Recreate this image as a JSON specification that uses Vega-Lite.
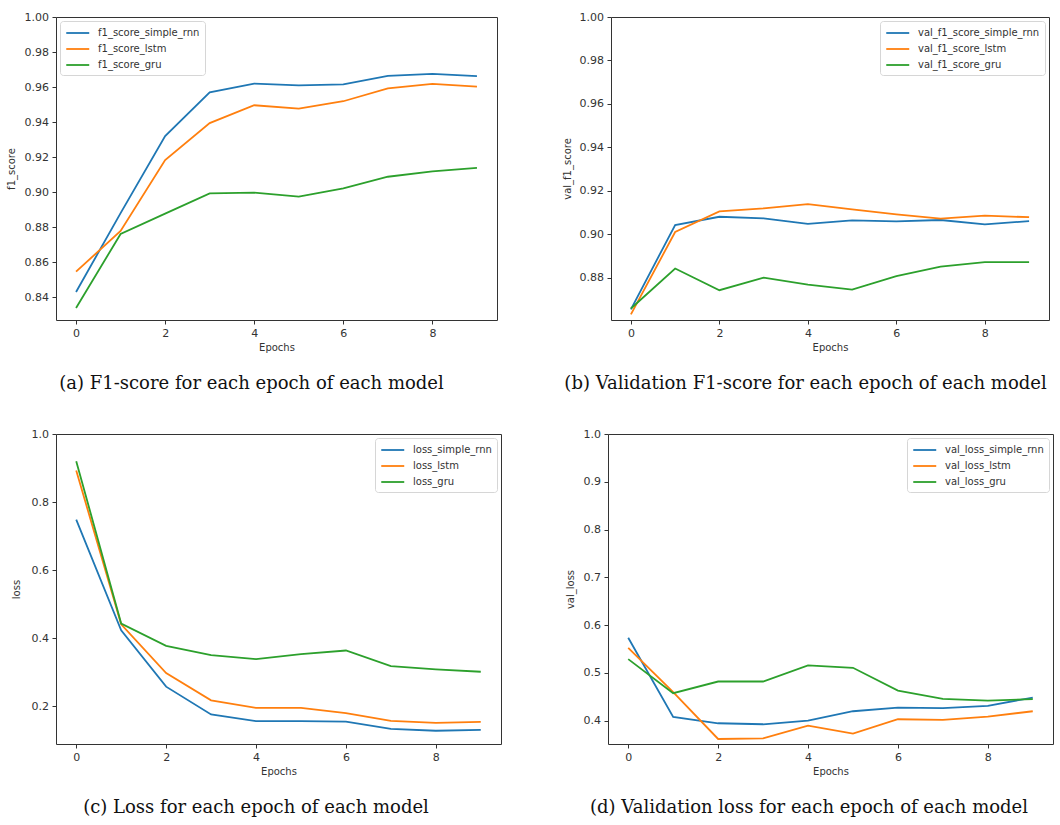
{
  "$schema": "https://vega.github.io/schema/vega-lite/v6.json",
  "padding": {"left": 5, "top": 10, "right": 0, "bottom": 0},
  "background": "white",
  "datasets": {
    "history": [
      {"metric": "f1_score", "series": "f1_score_simple_rnn", "epoch": 0, "value": 0.843},
      {"metric": "f1_score", "series": "f1_score_simple_rnn", "epoch": 1, "value": 0.888},
      {"metric": "f1_score", "series": "f1_score_simple_rnn", "epoch": 2, "value": 0.932},
      {"metric": "f1_score", "series": "f1_score_simple_rnn", "epoch": 3, "value": 0.957},
      {"metric": "f1_score", "series": "f1_score_simple_rnn", "epoch": 4, "value": 0.962},
      {"metric": "f1_score", "series": "f1_score_simple_rnn", "epoch": 5, "value": 0.961},
      {"metric": "f1_score", "series": "f1_score_simple_rnn", "epoch": 6, "value": 0.9615},
      {"metric": "f1_score", "series": "f1_score_simple_rnn", "epoch": 7, "value": 0.9664},
      {"metric": "f1_score", "series": "f1_score_simple_rnn", "epoch": 8, "value": 0.9675},
      {"metric": "f1_score", "series": "f1_score_simple_rnn", "epoch": 9, "value": 0.9662},
      {"metric": "f1_score", "series": "f1_score_lstm", "epoch": 0, "value": 0.8546},
      {"metric": "f1_score", "series": "f1_score_lstm", "epoch": 1, "value": 0.8778},
      {"metric": "f1_score", "series": "f1_score_lstm", "epoch": 2, "value": 0.9183},
      {"metric": "f1_score", "series": "f1_score_lstm", "epoch": 3, "value": 0.9394},
      {"metric": "f1_score", "series": "f1_score_lstm", "epoch": 4, "value": 0.9496},
      {"metric": "f1_score", "series": "f1_score_lstm", "epoch": 5, "value": 0.9477},
      {"metric": "f1_score", "series": "f1_score_lstm", "epoch": 6, "value": 0.9519},
      {"metric": "f1_score", "series": "f1_score_lstm", "epoch": 7, "value": 0.9593},
      {"metric": "f1_score", "series": "f1_score_lstm", "epoch": 8, "value": 0.9618},
      {"metric": "f1_score", "series": "f1_score_lstm", "epoch": 9, "value": 0.9603},
      {"metric": "f1_score", "series": "f1_score_gru", "epoch": 0, "value": 0.8339},
      {"metric": "f1_score", "series": "f1_score_gru", "epoch": 1, "value": 0.8761},
      {"metric": "f1_score", "series": "f1_score_gru", "epoch": 2, "value": 0.8877},
      {"metric": "f1_score", "series": "f1_score_gru", "epoch": 3, "value": 0.8993},
      {"metric": "f1_score", "series": "f1_score_gru", "epoch": 4, "value": 0.8997},
      {"metric": "f1_score", "series": "f1_score_gru", "epoch": 5, "value": 0.8974},
      {"metric": "f1_score", "series": "f1_score_gru", "epoch": 6, "value": 0.9021},
      {"metric": "f1_score", "series": "f1_score_gru", "epoch": 7, "value": 0.9088},
      {"metric": "f1_score", "series": "f1_score_gru", "epoch": 8, "value": 0.9118},
      {"metric": "f1_score", "series": "f1_score_gru", "epoch": 9, "value": 0.9139},

      {"metric": "val_f1_score", "series": "val_f1_score_simple_rnn", "epoch": 0, "value": 0.8655},
      {"metric": "val_f1_score", "series": "val_f1_score_simple_rnn", "epoch": 1, "value": 0.9043},
      {"metric": "val_f1_score", "series": "val_f1_score_simple_rnn", "epoch": 2, "value": 0.9081},
      {"metric": "val_f1_score", "series": "val_f1_score_simple_rnn", "epoch": 3, "value": 0.9074},
      {"metric": "val_f1_score", "series": "val_f1_score_simple_rnn", "epoch": 4, "value": 0.9048},
      {"metric": "val_f1_score", "series": "val_f1_score_simple_rnn", "epoch": 5, "value": 0.9064},
      {"metric": "val_f1_score", "series": "val_f1_score_simple_rnn", "epoch": 6, "value": 0.906},
      {"metric": "val_f1_score", "series": "val_f1_score_simple_rnn", "epoch": 7, "value": 0.9066},
      {"metric": "val_f1_score", "series": "val_f1_score_simple_rnn", "epoch": 8, "value": 0.9046},
      {"metric": "val_f1_score", "series": "val_f1_score_simple_rnn", "epoch": 9, "value": 0.9061},
      {"metric": "val_f1_score", "series": "val_f1_score_lstm", "epoch": 0, "value": 0.8632},
      {"metric": "val_f1_score", "series": "val_f1_score_lstm", "epoch": 1, "value": 0.9011},
      {"metric": "val_f1_score", "series": "val_f1_score_lstm", "epoch": 2, "value": 0.9106},
      {"metric": "val_f1_score", "series": "val_f1_score_lstm", "epoch": 3, "value": 0.912},
      {"metric": "val_f1_score", "series": "val_f1_score_lstm", "epoch": 4, "value": 0.9139},
      {"metric": "val_f1_score", "series": "val_f1_score_lstm", "epoch": 5, "value": 0.9115},
      {"metric": "val_f1_score", "series": "val_f1_score_lstm", "epoch": 6, "value": 0.9092},
      {"metric": "val_f1_score", "series": "val_f1_score_lstm", "epoch": 7, "value": 0.9072},
      {"metric": "val_f1_score", "series": "val_f1_score_lstm", "epoch": 8, "value": 0.9086},
      {"metric": "val_f1_score", "series": "val_f1_score_lstm", "epoch": 9, "value": 0.9079},
      {"metric": "val_f1_score", "series": "val_f1_score_gru", "epoch": 0, "value": 0.8659},
      {"metric": "val_f1_score", "series": "val_f1_score_gru", "epoch": 1, "value": 0.8843},
      {"metric": "val_f1_score", "series": "val_f1_score_gru", "epoch": 2, "value": 0.8743},
      {"metric": "val_f1_score", "series": "val_f1_score_gru", "epoch": 3, "value": 0.8801},
      {"metric": "val_f1_score", "series": "val_f1_score_gru", "epoch": 4, "value": 0.8769},
      {"metric": "val_f1_score", "series": "val_f1_score_gru", "epoch": 5, "value": 0.8746},
      {"metric": "val_f1_score", "series": "val_f1_score_gru", "epoch": 6, "value": 0.8808},
      {"metric": "val_f1_score", "series": "val_f1_score_gru", "epoch": 7, "value": 0.8852},
      {"metric": "val_f1_score", "series": "val_f1_score_gru", "epoch": 8, "value": 0.8872},
      {"metric": "val_f1_score", "series": "val_f1_score_gru", "epoch": 9, "value": 0.8872},

      {"metric": "loss", "series": "loss_simple_rnn", "epoch": 0, "value": 0.7486},
      {"metric": "loss", "series": "loss_simple_rnn", "epoch": 1, "value": 0.4232},
      {"metric": "loss", "series": "loss_simple_rnn", "epoch": 2, "value": 0.2575},
      {"metric": "loss", "series": "loss_simple_rnn", "epoch": 3, "value": 0.1757},
      {"metric": "loss", "series": "loss_simple_rnn", "epoch": 4, "value": 0.1562},
      {"metric": "loss", "series": "loss_simple_rnn", "epoch": 5, "value": 0.1565},
      {"metric": "loss", "series": "loss_simple_rnn", "epoch": 6, "value": 0.1545},
      {"metric": "loss", "series": "loss_simple_rnn", "epoch": 7, "value": 0.1337},
      {"metric": "loss", "series": "loss_simple_rnn", "epoch": 8, "value": 0.1279},
      {"metric": "loss", "series": "loss_simple_rnn", "epoch": 9, "value": 0.1308},
      {"metric": "loss", "series": "loss_lstm", "epoch": 0, "value": 0.8928},
      {"metric": "loss", "series": "loss_lstm", "epoch": 1, "value": 0.4407},
      {"metric": "loss", "series": "loss_lstm", "epoch": 2, "value": 0.2974},
      {"metric": "loss", "series": "loss_lstm", "epoch": 3, "value": 0.2175},
      {"metric": "loss", "series": "loss_lstm", "epoch": 4, "value": 0.1951},
      {"metric": "loss", "series": "loss_lstm", "epoch": 5, "value": 0.1951},
      {"metric": "loss", "series": "loss_lstm", "epoch": 6, "value": 0.1796},
      {"metric": "loss", "series": "loss_lstm", "epoch": 7, "value": 0.1571},
      {"metric": "loss", "series": "loss_lstm", "epoch": 8, "value": 0.1513},
      {"metric": "loss", "series": "loss_lstm", "epoch": 9, "value": 0.1542},
      {"metric": "loss", "series": "loss_gru", "epoch": 0, "value": 0.9201},
      {"metric": "loss", "series": "loss_gru", "epoch": 1, "value": 0.443},
      {"metric": "loss", "series": "loss_gru", "epoch": 2, "value": 0.3774},
      {"metric": "loss", "series": "loss_gru", "epoch": 3, "value": 0.3501},
      {"metric": "loss", "series": "loss_gru", "epoch": 4, "value": 0.3384},
      {"metric": "loss", "series": "loss_gru", "epoch": 5, "value": 0.353},
      {"metric": "loss", "series": "loss_gru", "epoch": 6, "value": 0.3637},
      {"metric": "loss", "series": "loss_gru", "epoch": 7, "value": 0.3179},
      {"metric": "loss", "series": "loss_gru", "epoch": 8, "value": 0.3082},
      {"metric": "loss", "series": "loss_gru", "epoch": 9, "value": 0.3013},

      {"metric": "val_loss", "series": "val_loss_simple_rnn", "epoch": 0, "value": 0.5734},
      {"metric": "val_loss", "series": "val_loss_simple_rnn", "epoch": 1, "value": 0.4077},
      {"metric": "val_loss", "series": "val_loss_simple_rnn", "epoch": 2, "value": 0.3944},
      {"metric": "val_loss", "series": "val_loss_simple_rnn", "epoch": 3, "value": 0.3923},
      {"metric": "val_loss", "series": "val_loss_simple_rnn", "epoch": 4, "value": 0.4},
      {"metric": "val_loss", "series": "val_loss_simple_rnn", "epoch": 5, "value": 0.4196},
      {"metric": "val_loss", "series": "val_loss_simple_rnn", "epoch": 6, "value": 0.4273},
      {"metric": "val_loss", "series": "val_loss_simple_rnn", "epoch": 7, "value": 0.4259},
      {"metric": "val_loss", "series": "val_loss_simple_rnn", "epoch": 8, "value": 0.4308},
      {"metric": "val_loss", "series": "val_loss_simple_rnn", "epoch": 9, "value": 0.4483},
      {"metric": "val_loss", "series": "val_loss_lstm", "epoch": 0, "value": 0.5524},
      {"metric": "val_loss", "series": "val_loss_lstm", "epoch": 1, "value": 0.4594},
      {"metric": "val_loss", "series": "val_loss_lstm", "epoch": 2, "value": 0.3615},
      {"metric": "val_loss", "series": "val_loss_lstm", "epoch": 3, "value": 0.3629},
      {"metric": "val_loss", "series": "val_loss_lstm", "epoch": 4, "value": 0.3895},
      {"metric": "val_loss", "series": "val_loss_lstm", "epoch": 5, "value": 0.3727},
      {"metric": "val_loss", "series": "val_loss_lstm", "epoch": 6, "value": 0.4028},
      {"metric": "val_loss", "series": "val_loss_lstm", "epoch": 7, "value": 0.4014},
      {"metric": "val_loss", "series": "val_loss_lstm", "epoch": 8, "value": 0.4084},
      {"metric": "val_loss", "series": "val_loss_lstm", "epoch": 9, "value": 0.4196},
      {"metric": "val_loss", "series": "val_loss_gru", "epoch": 0, "value": 0.5287},
      {"metric": "val_loss", "series": "val_loss_gru", "epoch": 1, "value": 0.4573},
      {"metric": "val_loss", "series": "val_loss_gru", "epoch": 2, "value": 0.4818},
      {"metric": "val_loss", "series": "val_loss_gru", "epoch": 3, "value": 0.4818},
      {"metric": "val_loss", "series": "val_loss_gru", "epoch": 4, "value": 0.5154},
      {"metric": "val_loss", "series": "val_loss_gru", "epoch": 5, "value": 0.5105},
      {"metric": "val_loss", "series": "val_loss_gru", "epoch": 6, "value": 0.4629},
      {"metric": "val_loss", "series": "val_loss_gru", "epoch": 7, "value": 0.4455},
      {"metric": "val_loss", "series": "val_loss_gru", "epoch": 8, "value": 0.442},
      {"metric": "val_loss", "series": "val_loss_gru", "epoch": 9, "value": 0.4448}
    ]
  },
  "vconcat": [
    {
      "hconcat": [
        {
          "width": 441,
          "height": 303,
          "title": {"text": "(a) F1-score for each epoch of each model"},
          "data": {"name": "history"},
          "transform": [{"filter": "datum.metric === 'f1_score'"}],
          "mark": {"type": "line", "strokeWidth": 1.8},
          "encoding": {
            "x": {"field": "epoch", "type": "quantitative", "scale": {"domain": [-0.45, 9.45], "nice": false, "zero": false}, "axis": {"values": [0, 2, 4, 6, 8], "format": "d", "title": "Epochs"}},
            "y": {"field": "value", "type": "quantitative", "scale": {"domain": [0.827, 1.0], "nice": false, "zero": false}, "axis": {"values": [0.84, 0.86, 0.88, 0.9, 0.92, 0.94, 0.96, 0.98, 1.0], "format": ".2f", "title": "f1_score", "titlePadding": 8}},
            "color": {"field": "series", "type": "nominal", "scale": {"domain": ["f1_score_simple_rnn", "f1_score_lstm", "f1_score_gru"], "range": ["#1f77b4", "#ff7f0e", "#2ca02c"]}, "legend": {"orient": "top-left"}}
          }
        },
        {
          "width": 438,
          "height": 303,
          "title": {"text": "(b) Validation F1-score for each epoch of each model"},
          "data": {"name": "history"},
          "transform": [{"filter": "datum.metric === 'val_f1_score'"}],
          "mark": {"type": "line", "strokeWidth": 1.8},
          "encoding": {
            "x": {"field": "epoch", "type": "quantitative", "scale": {"domain": [-0.45, 9.45], "nice": false, "zero": false}, "axis": {"values": [0, 2, 4, 6, 8], "format": "d", "title": "Epochs"}},
            "y": {"field": "value", "type": "quantitative", "scale": {"domain": [0.8606, 1.0], "nice": false, "zero": false}, "axis": {"values": [0.88, 0.9, 0.92, 0.94, 0.96, 0.98, 1.0], "format": ".2f", "title": "val_f1_score", "titlePadding": 7}},
            "color": {"field": "series", "type": "nominal", "scale": {"domain": ["val_f1_score_simple_rnn", "val_f1_score_lstm", "val_f1_score_gru"], "range": ["#1f77b4", "#ff7f0e", "#2ca02c"]}, "legend": {"orient": "top-right"}}
          }
        }
      ],
      "spacing": 63,
      "resolve": {"scale": {"color": "independent"}, "legend": {"color": "independent"}}
    },
    {
      "hconcat": [
        {
          "width": 445,
          "height": 310,
          "title": {"text": "(c) Loss for each epoch of each model"},
          "data": {"name": "history"},
          "transform": [{"filter": "datum.metric === 'loss'"}],
          "mark": {"type": "line", "strokeWidth": 1.8},
          "encoding": {
            "x": {"field": "epoch", "type": "quantitative", "scale": {"domain": [-0.45, 9.45], "nice": false, "zero": false}, "axis": {"values": [0, 2, 4, 6, 8], "format": "d", "title": "Epochs"}},
            "y": {"field": "value", "type": "quantitative", "scale": {"domain": [0.089, 1.0], "nice": false, "zero": false}, "axis": {"values": [0.2, 0.4, 0.6, 0.8, 1.0], "format": ".1f", "title": "loss", "titlePadding": 10}},
            "color": {"field": "series", "type": "nominal", "scale": {"domain": ["loss_simple_rnn", "loss_lstm", "loss_gru"], "range": ["#1f77b4", "#ff7f0e", "#2ca02c"]}, "legend": {"orient": "top-right"}}
          }
        },
        {
          "width": 445,
          "height": 310,
          "title": {"text": "(d) Validation loss for each epoch of each model"},
          "data": {"name": "history"},
          "transform": [{"filter": "datum.metric === 'val_loss'"}],
          "mark": {"type": "line", "strokeWidth": 1.8},
          "encoding": {
            "x": {"field": "epoch", "type": "quantitative", "scale": {"domain": [-0.45, 9.45], "nice": false, "zero": false}, "axis": {"values": [0, 2, 4, 6, 8], "format": "d", "title": "Epochs"}},
            "y": {"field": "value", "type": "quantitative", "scale": {"domain": [0.351, 1.0], "nice": false, "zero": false}, "axis": {"values": [0.4, 0.5, 0.6, 0.7, 0.8, 0.9, 1.0], "format": ".1f", "title": "val_loss", "titlePadding": 8}},
            "color": {"field": "series", "type": "nominal", "scale": {"domain": ["val_loss_simple_rnn", "val_loss_lstm", "val_loss_gru"], "range": ["#1f77b4", "#ff7f0e", "#2ca02c"]}, "legend": {"orient": "top-right"}}
          }
        }
      ],
      "spacing": 62,
      "resolve": {"scale": {"color": "independent"}, "legend": {"color": "independent"}}
    }
  ],
  "spacing": 34,
  "resolve": {"scale": {"color": "independent"}, "legend": {"color": "independent"}},
  "config": {
    "view": {"stroke": "#333333", "strokeWidth": 1},
    "axis": {
      "grid": false,
      "domain": false,
      "ticks": true,
      "tickColor": "#333333",
      "tickSize": 4,
      "labelFont": "DejaVu Sans",
      "labelFontSize": 11,
      "labelColor": "#333333",
      "labelPadding": 3.5,
      "titleFont": "DejaVu Sans",
      "titleFontSize": 10,
      "titleFontWeight": "normal",
      "titleColor": "#333333"
    },
    "axisX": {"titlePadding": 4, "labelFlush": false},
    "legend": {
      "title": null,
      "labelFont": "DejaVu Sans",
      "labelFontSize": 10,
      "labelColor": "#333333",
      "symbolType": "M-1,0H3",
      "symbolSize": 132,
      "symbolStrokeWidth": 1.8,
      "strokeColor": "#d6d6d6",
      "fillColor": "white",
      "cornerRadius": 3,
      "padding": 5,
      "offset": 4,
      "rowPadding": 4,
      "labelOffset": 19
    },
    "title": {
      "orient": "bottom",
      "anchor": "middle",
      "frame": "bounds",
      "offset": 22,
      "font": "DejaVu Serif",
      "fontSize": 18,
      "fontWeight": "normal",
      "color": "#111111"
    }
  }
}
